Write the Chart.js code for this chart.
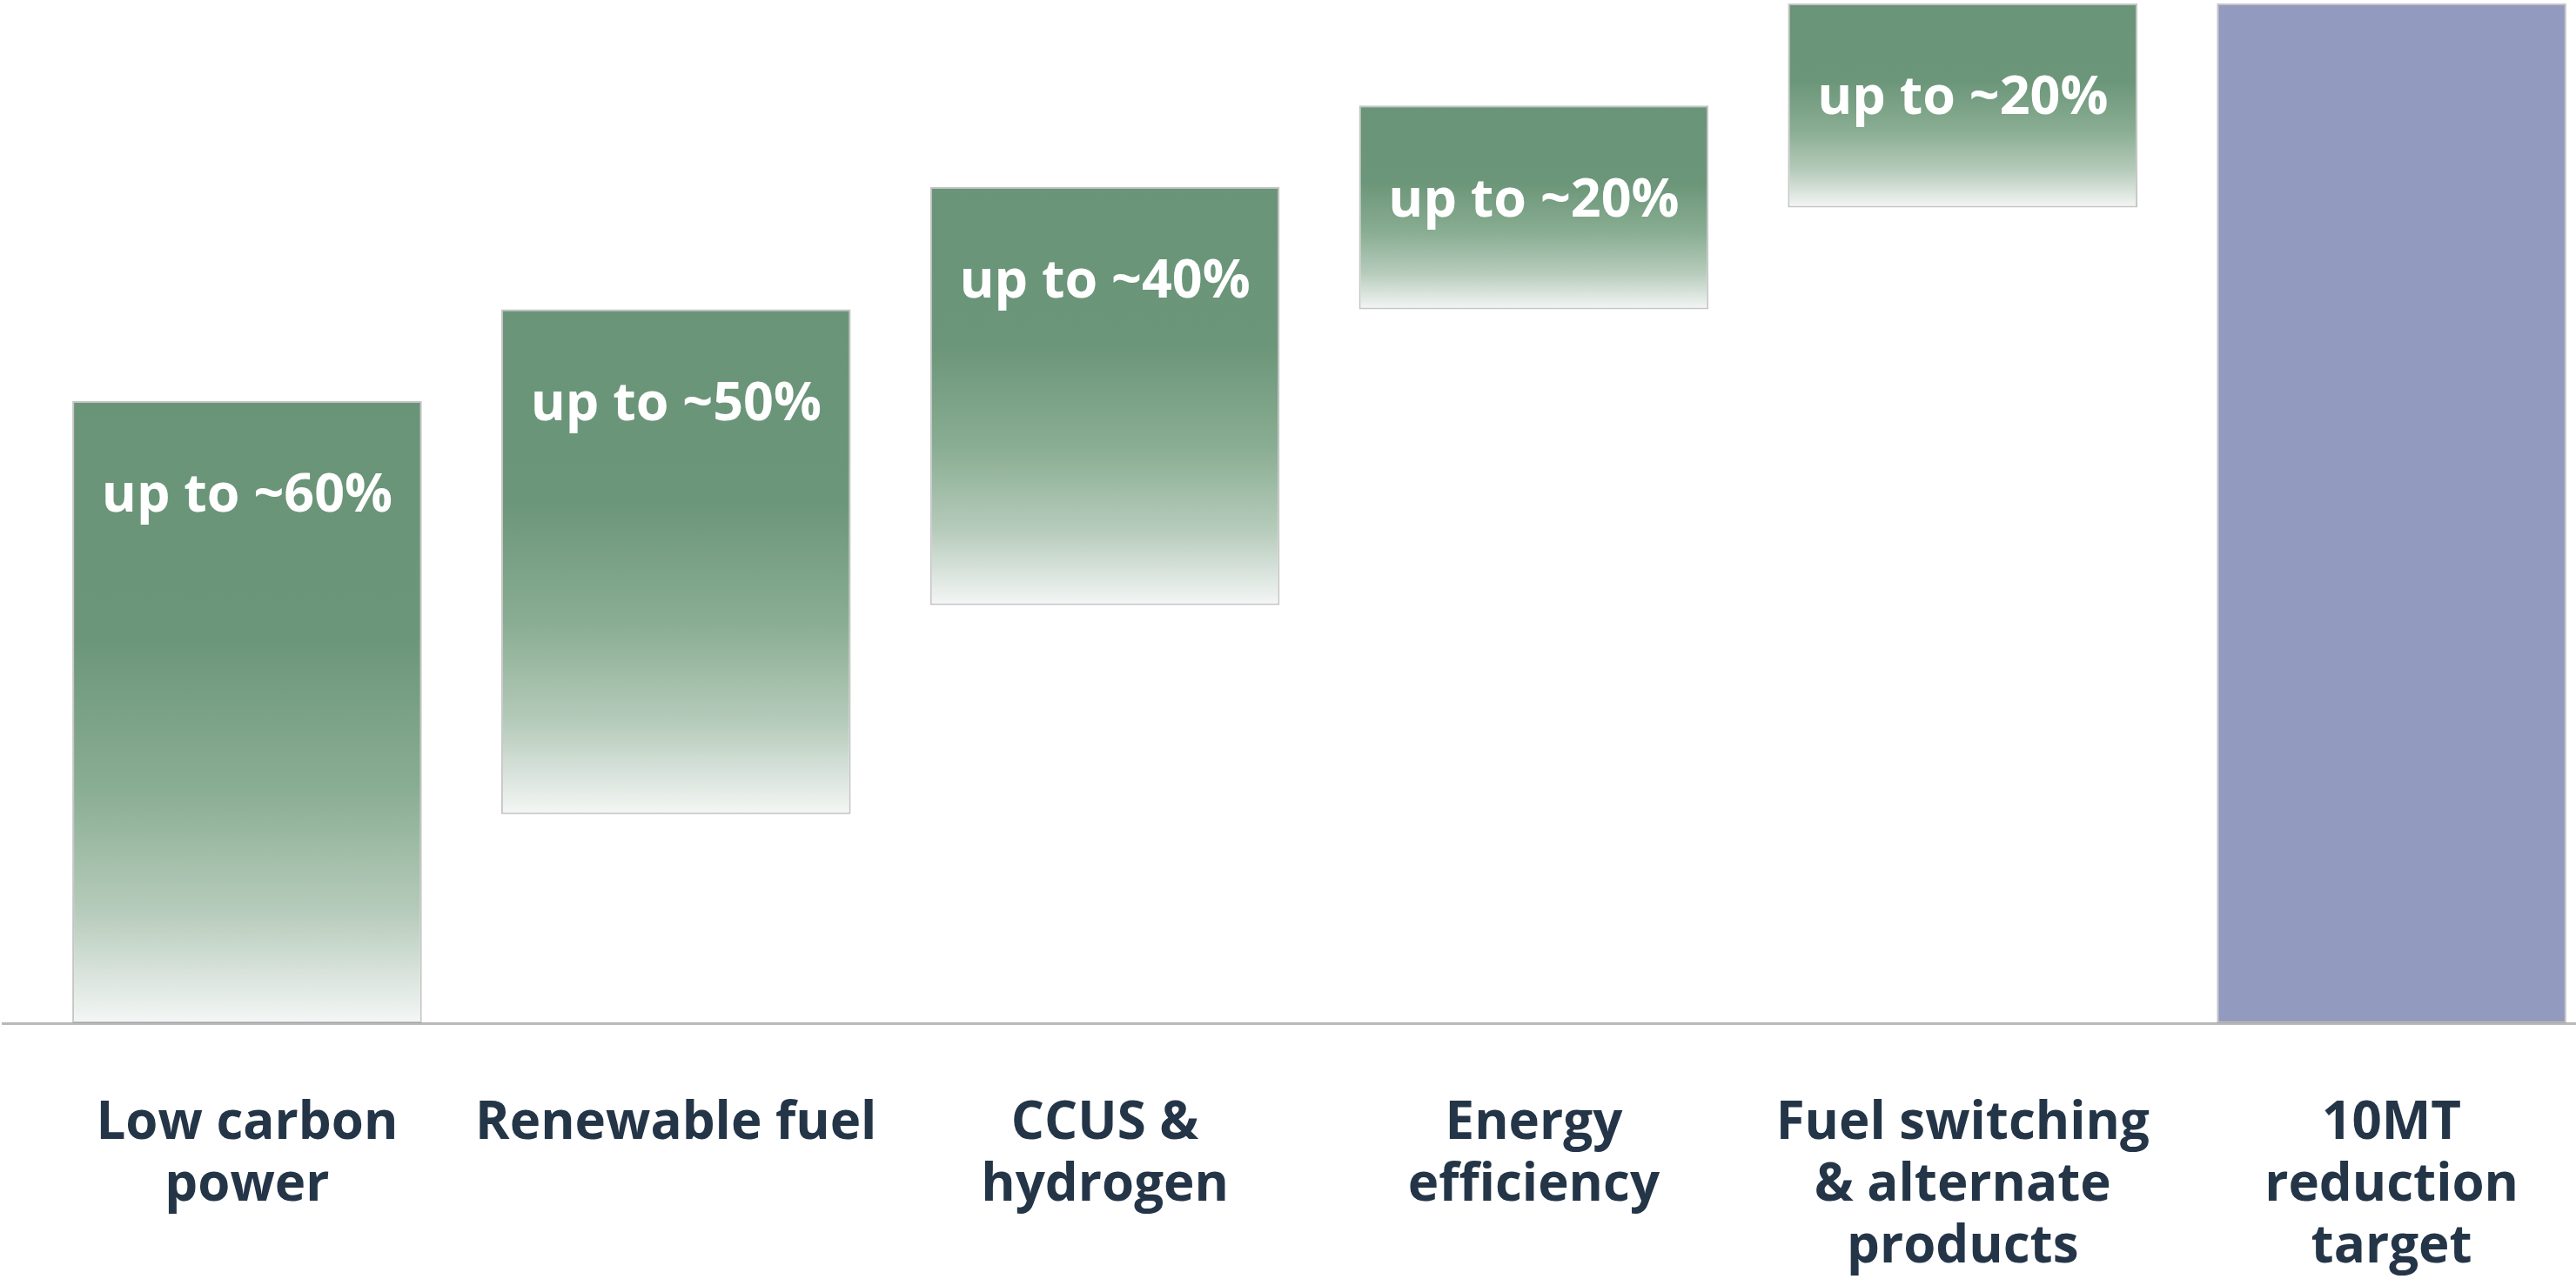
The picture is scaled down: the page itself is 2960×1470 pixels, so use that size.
<!DOCTYPE html>
<html>
<head>
<meta charset="utf-8">
<title>Emission reduction levers</title>
<script src="https://cdn.jsdelivr.net/npm/chart.js@4"></script>
<style>
    html, body { margin: 0; padding: 0; background: #ffffff; overflow: hidden; }
    #wrap { width: 2960px; height: 1470px; position: relative; }
</style>
</head>
<body>
<div id="wrap"><canvas id="leverChart"></canvas></div>
<script>
// levers (multi-line labels) and their floating ranges, in MT
const categories = [
    ['Low carbon', 'power'],
    ['Renewable fuel'],
    ['CCUS &', 'hydrogen'],
    ['Energy', 'efficiency'],
    ['Fuel switching', '& alternate', 'products'],
    ['10MT', 'reduction', 'target']
];
const rangeStart = [0, 2.05, 4.1, 7.0, 8.0, 0];
const rangeEnd = [6.1, 7.0, 8.2, 9.0, 10.0, 10.0];
const barLabels = ['up to ~60%', 'up to ~50%', 'up to ~40%', 'up to ~20%', 'up to ~20%', ''];

const GREEN = '#6a9478';
const TARGET = '#939ac0';
const TEXT_DARK = '#243548';
const FONT = '"Open Sans", "Noto Sans", sans-serif';

// green bars fade out towards their base, the target bar is solid
function barFill(context) {
    const i = context.dataIndex;
    if (i === categories.length - 1) return TARGET;
    const chart = context.chart;
    const yScale = chart.scales.y;
    if (!chart.chartArea || !yScale) return GREEN;
    const top = yScale.getPixelForValue(rangeEnd[i]);
    const bottom = yScale.getPixelForValue(rangeStart[i]);
    const g = chart.ctx.createLinearGradient(0, top, 0, bottom);
    g.addColorStop(0, '#6a9478');
    g.addColorStop(0.38, '#6c9679');
    g.addColorStop(0.62, '#89ad92');
    g.addColorStop(0.82, '#b6cbbb');
    g.addColorStop(1, '#f4f6f5');
    return g;
}

// white percentage text near the top of each bar
const barTextPlugin = {
    id: 'barText',
    afterDatasetsDraw(chart) {
        const ctx = chart.ctx;
        const meta = chart.getDatasetMeta(0);
        ctx.save();
        ctx.fillStyle = '#ffffff';
        ctx.font = 'bold 61px ' + FONT;
        ctx.textAlign = 'center';
        ctx.textBaseline = 'middle';
        meta.data.forEach((bar, i) => {
            if (!barLabels[i]) return;
            ctx.fillText(barLabels[i], bar.x, bar.y + 110);
        });
        ctx.restore();
    }
};

const points = categories.map((c, i) => ({ x: i, y: [rangeStart[i], rangeEnd[i]] }));

new Chart(document.getElementById('leverChart'), {
    type: 'bar',
    data: {
        datasets: [{
            data: points,
            backgroundColor: barFill,
            borderColor: 'rgba(150, 150, 150, 0.55)',
            borderWidth: 2,
            borderSkipped: false,
            categoryPercentage: 1,
            barPercentage: 0.815
        }]
    },
    options: {
        responsive: true,
        maintainAspectRatio: false,
        animation: false,
        layout: { padding: { left: 3, right: 0, top: 0, bottom: 0 } },
        plugins: {
            legend: { display: false },
            tooltip: { enabled: false }
        },
        scales: {
            x: {
                type: 'linear',
                min: -0.57,
                max: 5.43,
                offset: false,
                grid: { display: false, drawTicks: false },
                border: { display: true, color: '#b9b9b9', width: 3 },
                ticks: {
                    autoSkip: false,
                    maxRotation: 0,
                    padding: 81,
                    color: TEXT_DARK,
                    font: { family: FONT, size: 60, weight: 'bold', lineHeight: 1.18 },
                    callback: v => categories[v] || ''
                },
                // one tick per lever, at the bar centres
                afterBuildTicks(scale) {
                    scale.ticks = categories.map((c, i) => ({ value: i }));
                },
                afterFit(scale) {
                    scale.height = 294;
                    scale.paddingLeft = 0;
                    scale.paddingRight = 0;
                }
            },
            y: {
                display: false,
                min: 0,
                max: 10.034
            }
        }
    },
    plugins: [barTextPlugin]
});
</script>
</body>
</html>
